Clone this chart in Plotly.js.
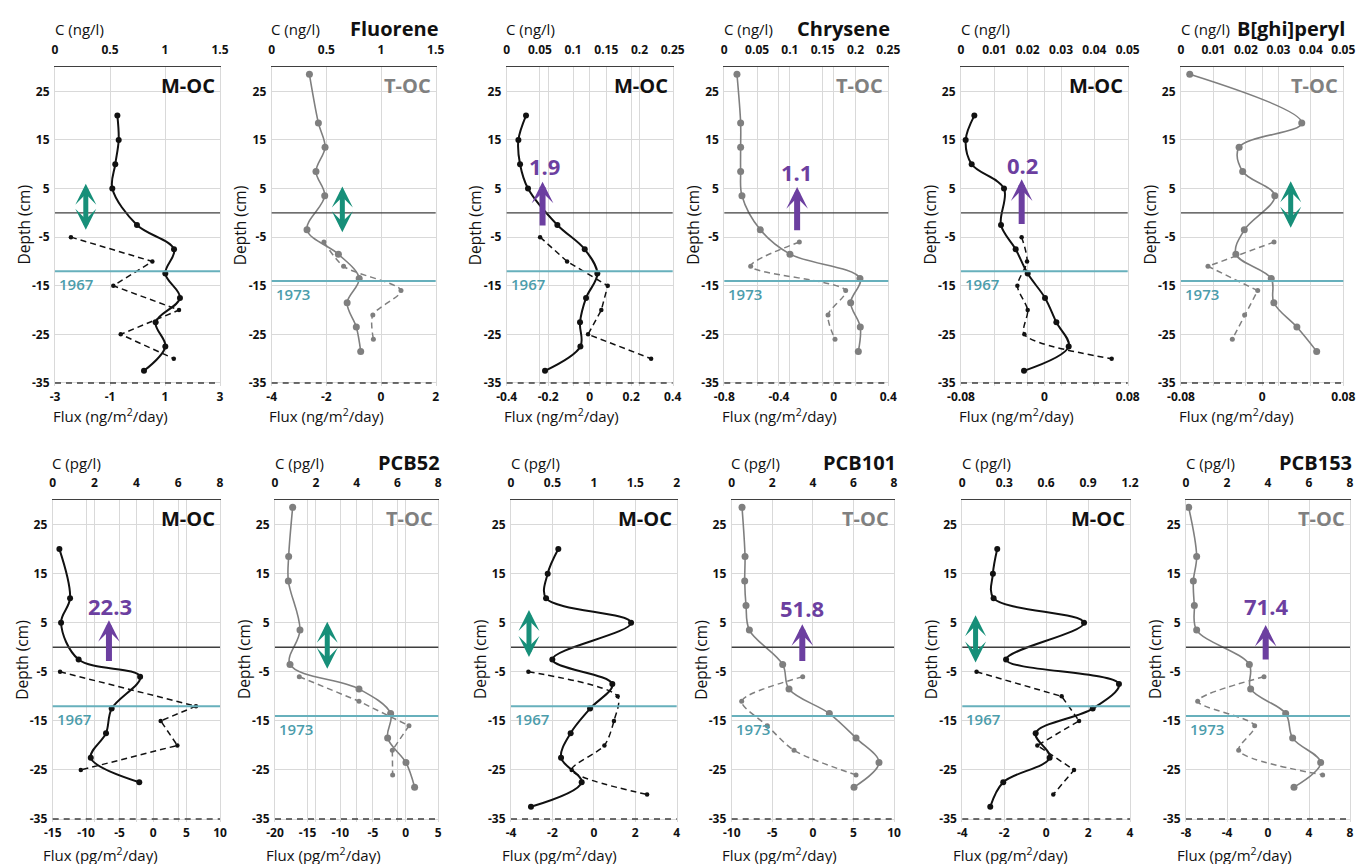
<!DOCTYPE html>
<html><head><meta charset="utf-8">
<script src="https://cdn.plot.ly/plotly-3.0.1.min.js"></script>
<style>html,body{margin:0;padding:0;background:#fff}#chart{width:1359px;height:864px}</style>
</head><body><div id="chart"></div>
<script>
// ---------------- DATA ----------------
const depthTicks = [-35, -25, -15, -5, 5, 15, 25];

// depths (cm) of the concentration profiles (solid) and flux profiles (dashed)
const depthM_C = [20, 15, 10, 5, -2.5, -7.5, -12.5, -17.5, -22.5, -27.5, -32.5];
const depthM_F = [-5, -10, -15, -20, -25, -30];
const depthT_C = [28.5, 18.5, 13.5, 8.5, 3.5, -3.5, -8.5, -13.5, -18.5, -23.5, -28.5];
const depthT_F = [-6, -11, -16, -21, -26];
const depthPCB52M_C = [20, 10, 5, -2.5, -6, -12.5, -17.5, -22.5, -27.5];
const depthPCB52M_F = [-5, -12, -15, -20, -25];
const depthPCB52T_C = [28.5, 18.5, 13.5, 3.5, -3.5, -8.5, -13.5, -18.5, -23.5, -28.5];

// Fluorene
const fluoreneM_C = [0.567, 0.579, 0.548, 0.521, 0.745, 1.082, 1.003, 1.136, 0.915, 1.003, 0.809];
const fluoreneM_flux = [-2.42, 0.54, -0.88, 1.51, -0.61, 1.32];
const fluoreneT_C = [0.345, 0.427, 0.488, 0.405, 0.485, 0.323, 0.61, 0.80, 0.69, 0.774, 0.814];
const fluoreneT_flux = [-2.09, -1.37, 0.73, -0.30, -0.28];
// Chrysene
const chryseneM_C = [0.0291, 0.0176, 0.0201, 0.0321, 0.0763, 0.1175, 0.1365, 0.1195, 0.1104, 0.111, 0.0577];
const chryseneM_flux = [-0.239, -0.109, 0.087, 0.056, -0.008, 0.296];
const chryseneT_C = [0.0193, 0.0249, 0.0249, 0.0249, 0.0269, 0.0549, 0.1001, 0.2068, 0.1926, 0.2073, 0.2043];
const chryseneT_flux = [-0.251, -0.607, 0.088, -0.041, 0.010];
// B[ghi]perylene
const bghiM_C = [0.004, 0.0014, 0.0032, 0.0129, 0.012, 0.0164, 0.02, 0.0252, 0.0286, 0.0323, 0.0189];
const bghiM_flux = [-0.0218, -0.0166, -0.0259, -0.016, -0.0192, 0.0646];
const bghiT_C = [0.0027, 0.0372, 0.0179, 0.019, 0.0289, 0.0195, 0.0169, 0.0278, 0.0286, 0.0357, 0.0418];
const bghiT_flux = [0.0117, -0.0534, -0.0044, -0.0173, -0.0294];
// PCB52
const pcb52M_C = [0.32, 0.83, 0.40, 1.24, 4.18, 2.82, 2.55, 1.82, 4.14];
const pcb52M_flux = [-13.9, 6.41, 1.14, 3.63, -10.8];
const pcb52T_C = [0.865, 0.669, 0.653, 1.224, 0.735, 4.114, 5.665, 5.518, 6.416, 6.84];
const pcb52T_flux = [-16.28, -7.14, 0.51, -2.04, -1.99];
// PCB101
const pcb101M_C = [0.571, 0.443, 0.423, 1.449, 0.499, 1.223, 0.954, 0.72, 0.604, 0.853, 0.241];
const pcb101M_flux = [-3.16, 1.15, 0.97, 0.51, -1.07, 2.57];
const pcb101T_C = [0.509, 0.657, 0.641, 0.706, 0.871, 2.513, 2.825, 4.813, 6.127, 7.26, 6.029];
const pcb101T_flux = [-1.25, -8.77, -5.61, -2.32, 5.32];
// PCB153
const pcb153M_C = [0.25, 0.219, 0.224, 0.871, 0.313, 1.121, 0.933, 0.525, 0.625, 0.293, 0.2];
const pcb153M_flux = [-3.32, 0.74, 1.57, -0.42, 1.33, 0.34];
const pcb153T_C = [0.13, 0.52, 0.358, 0.407, 0.52, 3.09, 3.154, 4.862, 5.203, 6.569, 5.268];
const pcb153T_flux = [-0.39, -6.86, -1.30, -2.86, 5.33];

// tick labels
const fluoreneC_ticks = [0, 0.5, 1, 1.5];
const fluoreneM_fluxTicks = [-3, -1, 1, 3];
const fluoreneT_fluxTicks = [-4, -2, 0, 2];
const chryseneC_ticks = [0, 0.05, 0.1, 0.15, 0.2, 0.25];
const chryseneM_fluxTicks = [-0.4, -0.2, 0, 0.2, 0.4];
const chryseneT_fluxTicks = [-0.8, -0.4, 0, 0.4];
const bghiC_ticks = [0, 0.01, 0.02, 0.03, 0.04, 0.05];
const bghi_fluxTicks = [-0.08, 0, 0.08];
const pcb52C_ticks = [0, 2, 4, 6, 8];
const pcb52M_fluxTicks = [-15, -10, -5, 0, 5, 10];
const pcb52T_fluxTicks = [-20, -15, -10, -5, 0, 5];
const pcb101M_C_ticks = [0, 0.5, 1, 1.5, 2];
const pcb101M_fluxTicks = [-4, -2, 0, 2, 4];
const pcb101T_C_ticks = [0, 2, 4, 6, 8];
const pcb101T_fluxTicks = [-10, -5, 0, 5, 10];
const pcb153M_C_ticks = [0, 0.3, 0.6, 0.9, 1.2];
const pcb153M_fluxTicks = [-4, -2, 0, 2, 4];
const pcb153T_C_ticks = [0, 2, 4, 6, 8];
const pcb153T_fluxTicks = [-8, -4, 0, 4, 8];

const compoundNames = ['Fluorene', 'Chrysene', 'B[ghi]peryl', 'PCB52', 'PCB101', 'PCB153'];
const fluxRatioLabels = ['1.9', '1.1', '0.2', '22.3', '51.8', '71.4'];

// ---------------- PANELS ----------------
const panels = [
  {row:0,col:0,unit:'ng',site:'M',cT:fluoreneC_ticks,fT:fluoreneM_fluxTicks,cD:depthM_C,c:fluoreneM_C,fD:depthM_F,f:fluoreneM_flux,dash:'linear',
   arrow:{kind:'double',x:0.28,a:-3.8,b:6.0}},
  {row:0,col:1,unit:'ng',site:'T',title:compoundNames[0],cT:fluoreneC_ticks,fT:fluoreneT_fluxTicks,cD:depthT_C,c:fluoreneT_C,fD:depthT_F,f:fluoreneT_flux,dash:'spline',
   arrow:{kind:'double',x:0.646,a:-4.3,b:5.4}},
  {row:0,col:2,unit:'ng',site:'M',cT:chryseneC_ticks,fT:chryseneM_fluxTicks,cD:depthM_C,c:chryseneM_C,fD:depthM_F,f:chryseneM_flux,dash:'linear',
   arrow:{kind:'up',x:0.054,a:-2.9,b:6.4,label:fluxRatioLabels[0],ly:9.6,lx:0.0567}},
  {row:0,col:3,unit:'ng',site:'T',title:compoundNames[1],cT:chryseneC_ticks,fT:chryseneT_fluxTicks,cD:depthT_C,c:chryseneT_C,fD:depthT_F,f:chryseneT_flux,dash:'spline',
   arrow:{kind:'up',x:0.111,a:-3.9,b:5.3,label:fluxRatioLabels[1],ly:8.5,lx:0.110}},
  {row:0,col:4,unit:'ng',site:'M',cT:bghiC_ticks,fT:bghi_fluxTicks,cD:depthM_C,c:bghiM_C,fD:depthM_F,f:bghiM_flux,dash:'spline',
   arrow:{kind:'up',x:0.0182,a:-2.6,b:6.9,label:fluxRatioLabels[2],ly:9.8,lx:0.0184}},
  {row:0,col:5,unit:'ng',site:'T',title:compoundNames[2],cT:bghiC_ticks,fT:bghi_fluxTicks,cD:depthT_C,c:bghiT_C,fD:depthT_F,f:bghiT_flux,dash:'linear',
   arrow:{kind:'double',x:0.0338,a:-3.4,b:6.5}},
  {row:1,col:0,unit:'pg',site:'M',cT:pcb52C_ticks,fT:pcb52M_fluxTicks,cD:depthPCB52M_C,c:pcb52M_C,fD:depthPCB52M_F,f:pcb52M_flux,dash:'linear',
   arrow:{kind:'up',x:2.69,a:-3.1,b:5.5,label:fluxRatioLabels[3],ly:8.4,lx:2.74}},
  {row:1,col:1,unit:'pg',site:'T',title:compoundNames[3],cT:pcb52C_ticks,fT:pcb52T_fluxTicks,cD:depthPCB52T_C,c:pcb52T_C,fD:depthT_F,f:pcb52T_flux,dash:'linear',
   arrow:{kind:'double',x:2.56,a:-4.7,b:5.2}},
  {row:1,col:2,unit:'pg',site:'M',cT:pcb101M_C_ticks,fT:pcb101M_fluxTicks,cD:depthM_C,c:pcb101M_C,fD:depthM_F,f:pcb101M_flux,dash:'spline',
   arrow:{kind:'double',x:0.217,a:-2.3,b:7.6}},
  {row:1,col:3,unit:'pg',site:'T',title:compoundNames[4],cT:pcb101T_C_ticks,fT:pcb101T_fluxTicks,cD:depthT_C,c:pcb101T_C,fD:depthT_F,f:pcb101T_flux,dash:'spline',
   arrow:{kind:'up',x:3.48,a:-3.1,b:4.7,label:fluxRatioLabels[4],ly:7.9,lx:3.47}},
  {row:1,col:4,unit:'pg',site:'M',cT:pcb153M_C_ticks,fT:pcb153M_fluxTicks,cD:depthM_C,c:pcb153M_C,fD:depthM_F,f:pcb153M_flux,dash:'linear',
   arrow:{kind:'double',x:0.095,a:-3.4,b:6.5}},
  {row:1,col:5,unit:'pg',site:'T',title:compoundNames[5],cT:pcb153T_C_ticks,fT:pcb153T_fluxTicks,cD:depthT_C,c:pcb153T_C,fD:depthT_F,f:pcb153T_flux,dash:'spline',
   arrow:{kind:'up',x:3.886,a:-2.8,b:4.55,label:fluxRatioLabels[5],ly:8.5,lx:3.886}}
];

// ---------------- GEOMETRY / STYLE ----------------
const W = 1359, H = 864;
const Y_MIN = -35.6, Y_MAX = 30;
const rowGeom = [{top:67, bottom:385.9, titleY:29, fluxY:415, fluxDx:55},
                 {top:500, bottom:822, titleY:463, fluxY:854, fluxDx:48}];
const colGeom = [
  [[55,220],[271.7,435.7],[506.7,672.7],[724.3,888.3],[961,1127.7],[1181,1343.3]],
  [[52.7,220],[275,438.3],[511,676.7],[731.7,894],[962.3,1130],[1186,1350]]
];
const FONT = 'Open Sans, Arial, sans-serif';
const GRID = '#D9D9D9';
const DARK = '#3F3F3F';
const TEAL_LINE = '#67B0BC';
const TEAL_TEXT = '#4C9DAB';
const PURPLE = '#6C3FA0';
const GREEN = '#178F79';
const siteStyle = {
  M: {name:'M-OC', color:'#111111', textColor:'#111111', lw:2, ms:6, dms:4.5, year:'1967', yearDepth:-12},
  T: {name:'T-OC', color:'#7F7F7F', textColor:'#808080', lw:1.6, ms:7, dms:5, year:'1973', yearDepth:-14}
};
const tickFont = {family:FONT, size:12, color:'#111', weight:'bold'};
const sv = v => String(v);

const traces = [];
const shapes = [];
const annotations = [];
const layout = {
  width: W, height: H, autosize:false,
  margin:{l:0,r:0,t:0,b:0}, paper_bgcolor:'#fff', plot_bgcolor:'rgba(0,0,0,0)',
  showlegend:false, font:{family:FONT, color:'#111'},
  shapes, annotations
};

panels.forEach((p, k) => {
  const i = k + 1;
  const fxN = 2*i - 1, cxN = 2*i;
  const fName = fxN === 1 ? 'xaxis' : 'xaxis' + fxN;
  const fRef = fxN === 1 ? 'x' : 'x' + fxN;
  const cName = 'xaxis' + cxN, cRef = 'x' + cxN;
  const yName = i === 1 ? 'yaxis' : 'yaxis' + i;
  const yRef = i === 1 ? 'y' : 'y' + i;
  const [L, R] = colGeom[p.row][p.col];
  const g = rowGeom[p.row];
  const st = siteStyle[p.site];
  const xd = [L / W, R / W];
  const yd = [1 - g.bottom / H, 1 - g.top / H];

  layout[fName] = {
    domain: xd, anchor: yRef, side:'bottom',
    range:[p.fT[0], p.fT[p.fT.length-1]], tickvals:p.fT, ticktext:p.fT.map(sv),
    showgrid:true, gridcolor:GRID, gridwidth:1, zeroline:false, showline:false,
    ticks:'', ticklabelstandoff:2, tickfont:tickFont, fixedrange:true
  };
  layout[cName] = {
    overlaying: fRef, anchor: yRef, side:'top',
    range:[p.cT[0], p.cT[p.cT.length-1]], tickvals:p.cT, ticktext:p.cT.map(sv),
    showgrid:true, gridcolor:GRID, gridwidth:1, zeroline:false,
    showline:true, linecolor:DARK, linewidth:1.5,
    ticks:'', ticklabelstandoff:7, tickfont:tickFont, fixedrange:true
  };
  layout[yName] = {
    domain: yd, anchor: fRef, range:[Y_MIN, Y_MAX],
    tickvals:depthTicks, ticktext:depthTicks.map(sv),
    showgrid:true, gridcolor:GRID, zeroline:false,
    showline:true, mirror:true, linecolor:GRID, linewidth:1,
    ticks:'', ticklabelstandoff:2, tickfont:tickFont, fixedrange:true
  };

  // flux profile (dashed, bottom axis)
  traces.push({
    type:'scatter', mode:'lines+markers', x:p.f, y:p.fD, xaxis:fRef, yaxis:yRef,
    line:{color:st.color, width:1.5, dash:'6px,4px', shape:p.dash, smoothing:0.8},
    marker:{color:st.color, size:st.dms}, cliponaxis:false, hoverinfo:'skip'
  });
  // concentration profile (solid, top axis)
  traces.push({
    type:'scatter', mode:'lines+markers', x:p.c, y:p.cD, xaxis:cRef, yaxis:yRef,
    line:{color:st.color, width:st.lw, shape:'spline', smoothing:1},
    marker:{color:st.color, size:st.ms}, cliponaxis:false, hoverinfo:'skip'
  });

  const dref = fRef + ' domain';
  shapes.push({type:'line', xref:dref, yref:yRef, x0:0, x1:1, y0:0, y1:0, line:{color:DARK, width:1.3}, layer:'above'});
  shapes.push({type:'line', xref:dref, yref:yRef, x0:0, x1:1, y0:-35, y1:-35, line:{color:DARK, width:1.5, dash:'6px,5px'}, layer:'above'});
  shapes.push({type:'line', xref:dref, yref:yRef, x0:0, x1:1, y0:st.yearDepth, y1:st.yearDepth, line:{color:TEAL_LINE, width:2}, layer:'above'});

  // year label
  annotations.push({xref:dref, yref:yRef, x:0, y:st.yearDepth, xanchor:'left', yanchor:'top', xshift:2, yshift:-1,
    text:st.year, showarrow:false, font:{family:FONT, size:15, color:TEAL_TEXT, weight:600}});
  // site label
  annotations.push({xref:dref, yref:yRef + ' domain', x:1, y:1, xanchor:'right', yanchor:'top', xshift:-3, yshift:-3,
    text:st.name, showarrow:false, font:{family:FONT, size:20, color:st.textColor, weight:'bold'}});

  // axis titles
  annotations.push({xref:'paper', yref:'paper', x:(L + 24) / W, y:1 - g.titleY / H, xanchor:'center', yanchor:'middle',
    text:'C (' + p.unit + '/l)', showarrow:false, font:{family:FONT, size:15, color:'#111'}});
  annotations.push({xref:'paper', yref:'paper', x:(L + g.fluxDx) / W, y:1 - g.fluxY / H, xanchor:'center', yanchor:'middle',
    text:'Flux (' + p.unit + '/m<sup>2</sup>/day)', showarrow:false, font:{family:FONT, size:15, color:'#111'}});
  annotations.push({xref:'paper', yref:'paper', x:(L - 31) / W, y:1 - ((g.top + g.bottom) / 2 - 1) / H, xanchor:'center', yanchor:'middle',
    text:'Depth (cm)', textangle:-90, showarrow:false, font:{family:FONT, size:15.5, color:'#111'}});
  if (p.title) {
    annotations.push({xref:'paper', yref:'paper', x:(R + 4) / W, y:1 - (g.titleY - 1) / H, xanchor:'right', yanchor:'middle',
      text:p.title, showarrow:false, font:{family:FONT, size:20, color:'#111', weight:'bold'}});
  }

  // arrows
  const a = p.arrow;
  if (a.kind === 'double') {
    annotations.push({xref:cRef, yref:yRef, axref:cRef, ayref:yRef, x:a.x, y:a.b, ax:a.x, ay:a.a, text:'',
      showarrow:true, arrowhead:3, arrowsize:0.7, arrowwidth:5, arrowcolor:GREEN,
      arrowside:'end+start', startarrowhead:3, startarrowsize:0.7, standoff:0, startstandoff:0});
  } else {
    annotations.push({xref:cRef, yref:yRef, axref:cRef, ayref:yRef, x:a.x, y:a.b, ax:a.x, ay:a.a, text:'',
      showarrow:true, arrowhead:3, arrowsize:0.6, arrowwidth:6, arrowcolor:PURPLE, standoff:0});
    annotations.push({xref:cRef, yref:yRef, x:a.lx, y:a.ly, xanchor:'center', yanchor:'middle', text:a.label,
      showarrow:false, font:{family:FONT, size:22, color:PURPLE, weight:'bold'}});
  }
});

Plotly.newPlot('chart', traces, layout, {staticPlot:true, displayModeBar:false});
</script></body></html>
